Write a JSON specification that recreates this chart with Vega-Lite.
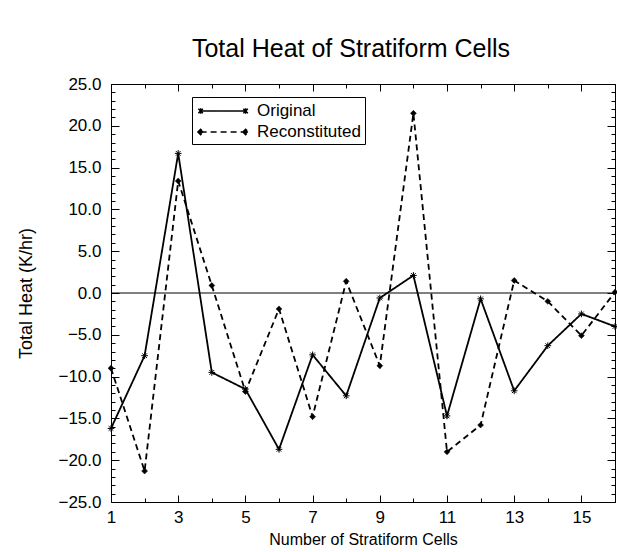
{
  "$schema": "https://vega.github.io/schema/vega-lite/v6.json",
  "width": 504,
  "height": 418,
  "autosize": {"type": "none"},
  "padding": {"left": 111, "top": 84, "right": 2, "bottom": 50},
  "background": "white",
  "title": {"text": "Total Heat of Stratiform Cells", "fontSize": 25, "font": "Liberation Sans", "fontWeight": "normal", "anchor": "middle", "baseline": "alphabetic", "offset": -7, "dx": -12, "color": "black"},
  "config": {
    "view": {"stroke": "black", "strokeWidth": 1},
    "font": "Liberation Sans",
    "axis": {"domain": false, "grid": false, "tickColor": "black", "labelColor": "black", "titleColor": "black", "labelFont": "Liberation Sans", "titleFont": "Liberation Sans", "titleFontWeight": "normal"}
  },
  "data": {"values": [
    {"cells": 1, "heat": -16.2, "series": "Original"},
    {"cells": 2, "heat": -7.5, "series": "Original"},
    {"cells": 3, "heat": 16.7, "series": "Original"},
    {"cells": 4, "heat": -9.5, "series": "Original"},
    {"cells": 5, "heat": -11.5, "series": "Original"},
    {"cells": 6, "heat": -18.7, "series": "Original"},
    {"cells": 7, "heat": -7.4, "series": "Original"},
    {"cells": 8, "heat": -12.3, "series": "Original"},
    {"cells": 9, "heat": -0.6, "series": "Original"},
    {"cells": 10, "heat": 2.1, "series": "Original"},
    {"cells": 11, "heat": -14.7, "series": "Original"},
    {"cells": 12, "heat": -0.7, "series": "Original"},
    {"cells": 13, "heat": -11.7, "series": "Original"},
    {"cells": 14, "heat": -6.3, "series": "Original"},
    {"cells": 15, "heat": -2.5, "series": "Original"},
    {"cells": 16, "heat": -4.0, "series": "Original"},
    {"cells": 1, "heat": -9.0, "series": "Reconstituted"},
    {"cells": 2, "heat": -21.3, "series": "Reconstituted"},
    {"cells": 3, "heat": 13.4, "series": "Reconstituted"},
    {"cells": 4, "heat": 0.9, "series": "Reconstituted"},
    {"cells": 5, "heat": -11.8, "series": "Reconstituted"},
    {"cells": 6, "heat": -1.9, "series": "Reconstituted"},
    {"cells": 7, "heat": -14.8, "series": "Reconstituted"},
    {"cells": 8, "heat": 1.4, "series": "Reconstituted"},
    {"cells": 9, "heat": -8.7, "series": "Reconstituted"},
    {"cells": 10, "heat": 21.5, "series": "Reconstituted"},
    {"cells": 11, "heat": -19.0, "series": "Reconstituted"},
    {"cells": 12, "heat": -15.8, "series": "Reconstituted"},
    {"cells": 13, "heat": 1.5, "series": "Reconstituted"},
    {"cells": 14, "heat": -1.0, "series": "Reconstituted"},
    {"cells": 15, "heat": -5.1, "series": "Reconstituted"},
    {"cells": 16, "heat": 0.1, "series": "Reconstituted"}
  ]},
  "resolve": {"axis": {"x": "independent", "y": "independent"}},
  "layer": [
    {
      "data": {"values": [{"z": 0}]},
      "mark": {"type": "rule", "color": "black", "strokeWidth": 1},
      "encoding": {"y": {"field": "z", "type": "quantitative", "axis": null}}
    },
    {
      "mark": {"type": "line", "color": "black", "strokeWidth": 1.8},
      "encoding": {
        "x": {"field": "cells", "type": "quantitative",
          "scale": {"domain": [1, 16], "nice": false, "zero": false},
          "axis": {"orient": "bottom", "values": [1,2,3,4,5,6,7,8,9,10,11,12,13,14,15,16],
            "labelExpr": "datum.value % 2 == 1 ? datum.label : ''",
            "tickSize": {"condition": {"test": "datum.value % 2 == 1", "value": -7}, "value": -4},
            "labelPadding": 14, "labelFontSize": 17, "labelFlush": false,
            "title": "Number of Stratiform Cells", "titleFontSize": 16, "titlePadding": 6}},
        "y": {"field": "heat", "type": "quantitative",
          "scale": {"domain": [-25, 25], "nice": false, "zero": false},
          "axis": {"orient": "left", "values": [-25,-24,-23,-22,-21,-20,-19,-18,-17,-16,-15,-14,-13,-12,-11,-10,-9,-8,-7,-6,-5,-4,-3,-2,-1,0,1,2,3,4,5,6,7,8,9,10,11,12,13,14,15,16,17,18,19,20,21,22,23,24,25],
            "labelExpr": "datum.value % 5 == 0 ? format(datum.value, '.1f') : ''",
            "tickSize": {"condition": {"test": "datum.value % 5 == 0", "value": -8}, "value": -4},
            "labelPadding": 18, "labelFontSize": 17, "labelFlush": false,
            "title": "Total Heat (K/hr)", "titleFontSize": 18, "titlePadding": 22}},
        "strokeDash": {"field": "series", "type": "nominal",
          "scale": {"domain": ["Original", "Reconstituted"], "range": [[1, 0], [6, 4]]},
          "legend": {"orient": "none", "legendX": 81, "legendY": 13, "title": null,
            "strokeColor": "black", "fillColor": "white", "padding": 4,
            "symbolType": "M-0.6,0L4.4,0", "symbolSize": 324, "symbolStrokeWidth": 1.5, "symbolStrokeColor": "black", "symbolFillColor": "black",
            "labelFontSize": 17, "labelFont": "Liberation Sans", "labelColor": "black", "labelOffset": 41, "rowPadding": 3,
            "encode": {"symbols": {"update": {
              "shape": [
                {"test": "datum.value === 'Original'", "value": "M-0.6,0L4.4,0M-0.85,-0.25L-0.35,0.25M-0.85,0.25L-0.35,-0.25M-0.6,-0.3L-0.6,0.3M4.15,-0.25L4.65,0.25M4.15,0.25L4.65,-0.25M4.4,-0.3L4.4,0.3"},
                {"value": "M-0.6,0L4.4,0M-0.9,0L-0.6,-0.3L-0.3,0L-0.6,0.3ZM4.1,0L4.4,-0.3L4.7,0L4.4,0.3Z"}
              ],
              "fill": {"value": "black"}, "stroke": {"value": "black"}}}}}}
      }
    },
    {
      "transform": [{"filter": "datum.series == 'Original'"}],
      "mark": {"type": "point", "shape": "M-1,0L1,0M0,-1L0,1M-0.7,-0.7L0.7,0.7M-0.7,0.7L0.7,-0.7", "filled": false, "stroke": "black", "strokeWidth": 1, "size": 45, "opacity": 1},
      "encoding": {
        "x": {"field": "cells", "type": "quantitative",
          "axis": {"orient": "top", "values": [1,2,3,4,5,6,7,8,9,10,11,12,13,14,15,16], "labels": false, "title": null,
            "tickSize": {"condition": {"test": "datum.value % 2 == 1", "value": -7}, "value": -4}}},
        "y": {"field": "heat", "type": "quantitative",
          "axis": {"orient": "right", "values": [-25,-24,-23,-22,-21,-20,-19,-18,-17,-16,-15,-14,-13,-12,-11,-10,-9,-8,-7,-6,-5,-4,-3,-2,-1,0,1,2,3,4,5,6,7,8,9,10,11,12,13,14,15,16,17,18,19,20,21,22,23,24,25], "labels": false, "title": null,
            "tickSize": {"condition": {"test": "datum.value % 5 == 0", "value": -8}, "value": -4}}}
      }
    },
    {
      "transform": [{"filter": "datum.series == 'Reconstituted'"}],
      "mark": {"type": "point", "shape": "diamond", "filled": true, "fill": "black", "stroke": "black", "strokeWidth": 0.5, "size": 35, "opacity": 1},
      "encoding": {
        "x": {"field": "cells", "type": "quantitative", "axis": null},
        "y": {"field": "heat", "type": "quantitative", "axis": null}
      }
    }
  ]
}
